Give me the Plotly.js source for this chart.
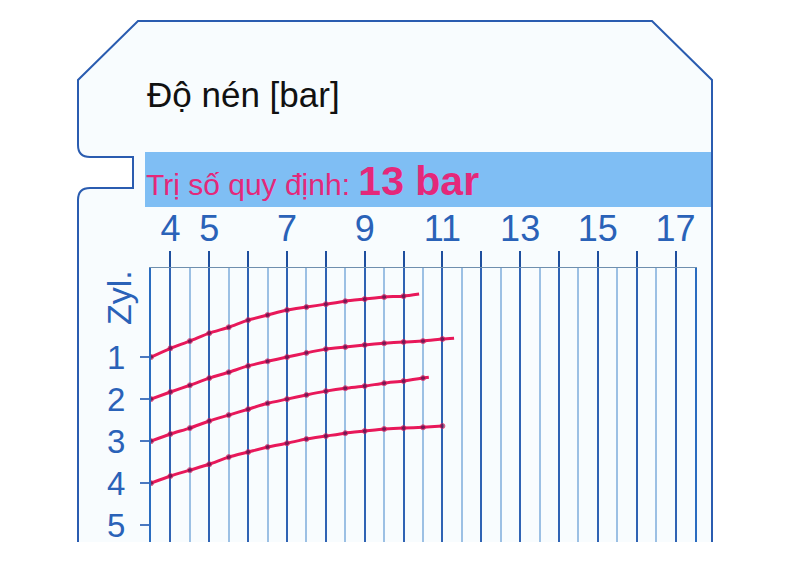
<!DOCTYPE html>
<html>
<head>
<meta charset="utf-8">
<script src="https://cdn.plot.ly/plotly-3.0.1.min.js"></script>
<style>
  html, body { margin: 0; padding: 0; background: #fff; }
  #plotly { width: 800px; height: 565px; }
</style>
</head>
<body>
<div id="plotly"></div>
<script>
// labelled pressure ticks (bar) and cylinder rows
var pressureLabels = [4, 5, 7, 9, 11, 13, 15, 17];
var cylinders = [1, 2, 3, 4, 5];

// recorded traces: pressure in bar, vertical position in cylinder rows
var zyl1Bar = [3.5, 4, 4.5, 5, 5.5, 6, 6.5, 7, 7.5, 8, 8.5, 9, 9.5, 10, 10.4];
var zyl1Row = [1.00, 0.79, 0.62, 0.43, 0.29, 0.12, 0.00, -0.12, -0.19, -0.26, -0.33, -0.38, -0.43, -0.45, -0.50];

var zyl2Bar = [3.5, 4, 4.5, 5, 5.5, 6, 6.5, 7, 7.5, 8, 8.5, 9, 9.5, 10, 10.5, 11, 11.3];
var zyl2Row = [2.00, 1.83, 1.67, 1.50, 1.36, 1.21, 1.10, 1.00, 0.90, 0.81, 0.76, 0.71, 0.67, 0.64, 0.62, 0.57, 0.55];

var zyl3Bar = [3.5, 4, 4.5, 5, 5.5, 6, 6.5, 7, 7.5, 8, 8.5, 9, 9.5, 10, 10.5, 10.65];
var zyl3Row = [3.00, 2.83, 2.69, 2.52, 2.38, 2.24, 2.10, 2.00, 1.90, 1.81, 1.74, 1.69, 1.62, 1.57, 1.50, 1.48];

var zyl4Bar = [3.5, 4, 4.5, 5, 5.5, 6, 6.5, 7, 7.5, 8, 8.5, 9, 9.5, 10, 10.5, 11];
var zyl4Row = [4.00, 3.83, 3.69, 3.55, 3.38, 3.26, 3.14, 3.05, 2.95, 2.88, 2.81, 2.76, 2.71, 2.69, 2.67, 2.64];

var BLUE = '#2a62b8';
var PINK = '#e8185a';

// plot box in page pixels, used only to place the card decoration
var L = 151, R = 695, T = 268, B = 542;
function px(x) { return (x - L) / (R - L); }
function py(y) { return (B - y) / (B - T); }

function trace(xs, ys) {
  return {
    x: xs, y: ys,
    mode: 'lines+markers',
    line: { color: PINK, width: 3, shape: 'spline', smoothing: 0.6 },
    marker: {
      color: '#4b1650',
      size: xs.map(function (v) { return (v * 2) % 1 === 0 ? 5 : 0; })
    },
    hoverinfo: 'skip',
    showlegend: false
  };
}

var data = [
  trace(zyl1Bar, zyl1Row),
  trace(zyl2Bar, zyl2Row),
  trace(zyl3Bar, zyl3Row),
  trace(zyl4Bar, zyl4Row)
];

var gridVals = [];
for (var v = 4; v <= 17; v++) gridVals.push(v);

var cardPath =
  'M ' + px(78) + ',' + py(542) +
  ' L ' + px(78) + ',' + py(200) +
  ' Q ' + px(78) + ',' + py(188) + ' ' + px(90) + ',' + py(188) +
  ' L ' + px(133) + ',' + py(188) +
  ' L ' + px(133) + ',' + py(157) +
  ' L ' + px(90) + ',' + py(157) +
  ' Q ' + px(78) + ',' + py(157) + ' ' + px(78) + ',' + py(145) +
  ' L ' + px(78) + ',' + py(80) +
  ' L ' + px(138) + ',' + py(21) +
  ' L ' + px(652) + ',' + py(21) +
  ' L ' + px(712) + ',' + py(80) +
  ' L ' + px(712) + ',' + py(542);

var layout = {
  width: 800,
  height: 565,
  margin: { l: L, r: 800 - R, t: T, b: 565 - B },
  paper_bgcolor: '#ffffff',
  plot_bgcolor: 'rgba(0,0,0,0)',
  font: { family: 'Liberation Sans, Arial, sans-serif', color: BLUE },
  xaxis: {
    side: 'top',
    range: [3.5, 17.5],
    tickmode: 'array',
    tickvals: gridVals,
    ticktext: gridVals.map(function (g) { return pressureLabels.indexOf(g) >= 0 ? String(g) : ''; }),
    ticks: 'outside',
    ticklen: 16,
    tickwidth: 2,
    tickcolor: '#1f4f9e',
    ticklabelstandoff: -5,
    tickfont: { size: 36, color: BLUE },
    showgrid: true,
    gridcolor: '#2f63b4',
    gridwidth: 2,
    minor: { tickmode: 'linear', tick0: 3.5, dtick: 0.5, showgrid: true, gridcolor: '#9cc0e4', gridwidth: 2, ticks: '' },
    showline: true,
    linecolor: '#6f8fae',
    linewidth: 1.5,
    zeroline: false,
    fixedrange: true
  },
  yaxis: {
    range: [5.4, -1.12],
    tickmode: 'array',
    tickvals: cylinders,
    ticktext: cylinders.map(String),
    ticks: 'outside',
    ticklen: 9,
    tickwidth: 1.5,
    tickcolor: '#4a78c0',
    ticklabelstandoff: 8,
    tickfont: { size: 33, color: BLUE },
    showgrid: false,
    zeroline: false,
    showline: true,
    mirror: true,
    linecolor: '#2a6cc0',
    linewidth: 2,
    fixedrange: true
  },
  shapes: [
    {
      type: 'path', xref: 'paper', yref: 'paper', layer: 'below',
      path: cardPath,
      fillcolor: 'rgba(244,250,254,0.6)',
      line: { color: '#2a5cb0', width: 2 }
    },
    {
      type: 'rect', xref: 'paper', yref: 'paper', layer: 'below',
      x0: px(145), x1: px(711), y0: py(207), y1: py(152),
      fillcolor: '#7fbef4', line: { width: 0 }
    }
  ],
  annotations: [
    {
      xref: 'paper', yref: 'paper', x: px(145), y: py(95),
      xanchor: 'left', yanchor: 'middle', showarrow: false,
      text: 'Độ nén [bar]',
      font: { size: 35, color: '#111111' }
    },
    {
      xref: 'paper', yref: 'paper', x: px(144), y: py(181),
      xanchor: 'left', yanchor: 'middle', showarrow: false,
      text: '<span style="font-size:30px">Trị số quy định: </span><b style="font-size:41px">13 bar</b>',
      font: { size: 30, color: '#e4287a' }
    },
    {
      xref: 'paper', yref: 'paper', x: px(119), y: py(298),
      xanchor: 'center', yanchor: 'middle', showarrow: false,
      textangle: -90,
      text: 'Zyl.',
      font: { size: 34, color: BLUE }
    }
  ]
};

Plotly.newPlot('plotly', data, layout, { staticPlot: true, displayModeBar: false });
</script>
</body>
</html>
